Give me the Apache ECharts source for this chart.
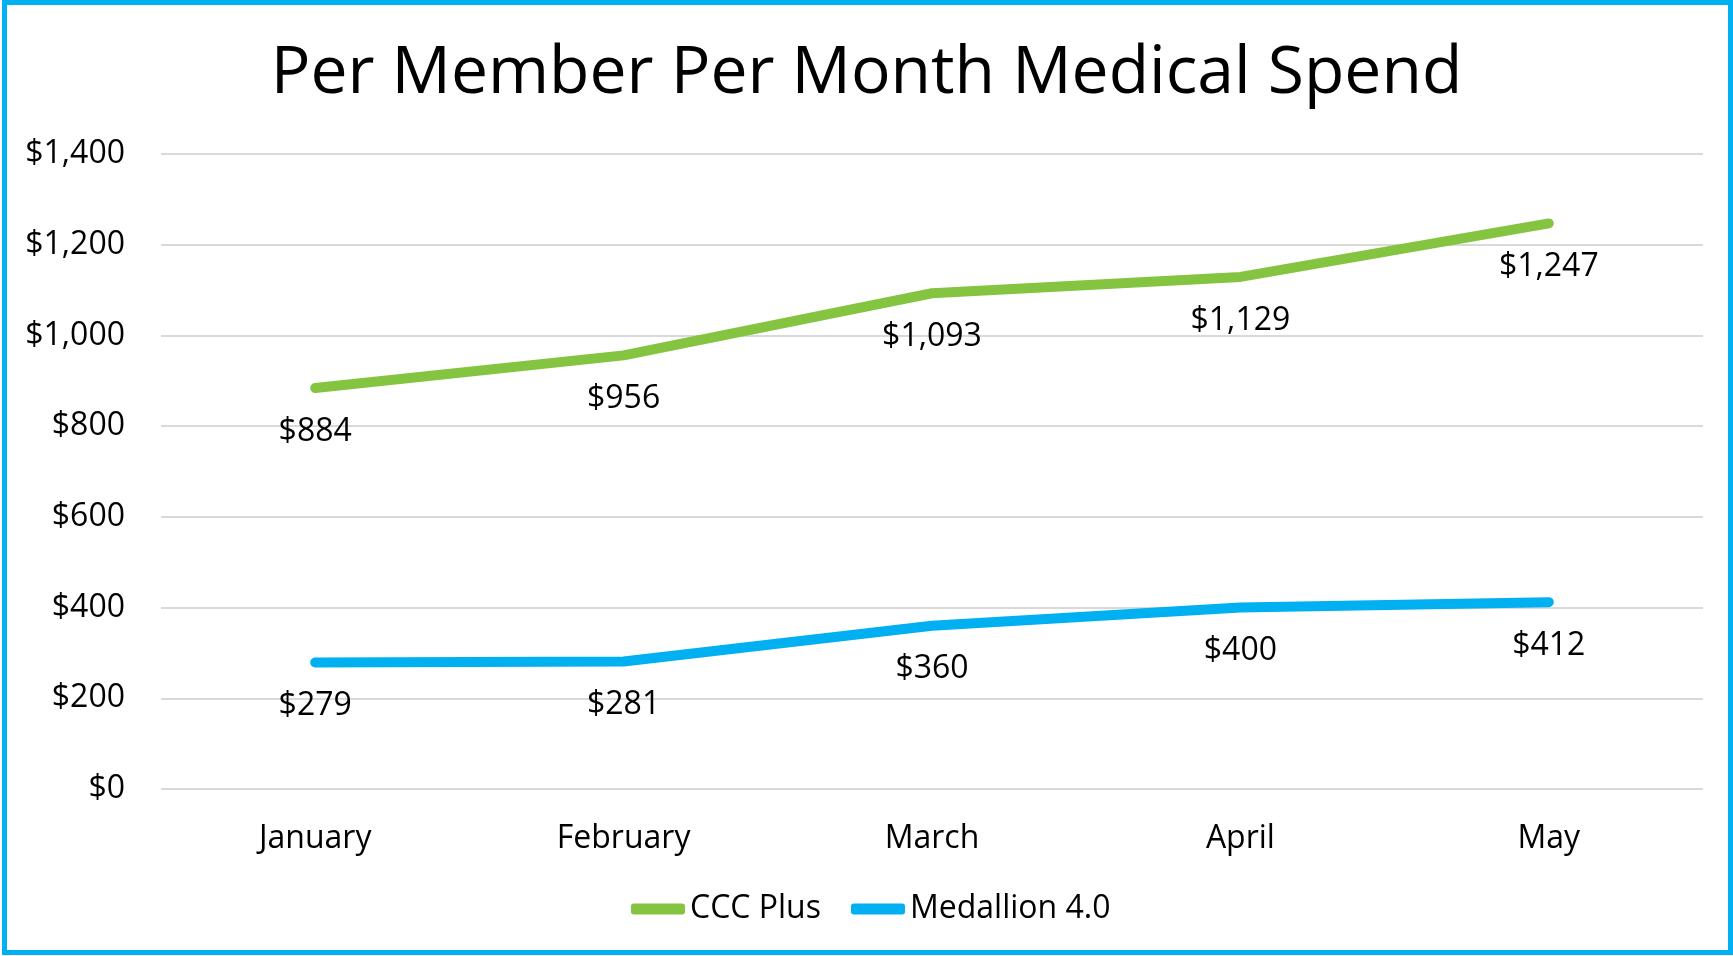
<!DOCTYPE html>
<html>
<head>
<meta charset="utf-8">
<script src="https://cdn.jsdelivr.net/npm/echarts@6/dist/echarts.min.js"></script>
<style>
    html, body { margin: 0; padding: 0; background: #fff; }
    #chart { width: 1733px; height: 956px; }
</style>
</head>
<body>
<div id="chart"></div>
<script>
/*
|--------------------------------------------------------------------------
| Data
|--------------------------------------------------------------------------
*/

const months = ['January', 'February', 'March', 'April', 'May'];
const cccPlus = [884, 956, 1093, 1129, 1247];
const medallion = [279, 281, 360, 400, 412];
const yTicks = [0, 200, 400, 600, 800, 1000, 1200, 1400];

/*
|--------------------------------------------------------------------------
| Style helpers
|--------------------------------------------------------------------------
*/

const fontFamily = '"Open Sans", "Noto Sans", sans-serif';
const textColor = '#000';
const green = '#84C441';
const blue = '#00B0F0';

const money = v => '$' + Number(v).toLocaleString('en-US');

function lineSeries(name, data, color) {
    return {
        name,
        type: 'line',
        data,
        symbol: 'circle',
        symbolSize: 1,
        itemStyle: { color },
        lineStyle: { color, width: 10, cap: 'round', join: 'round' },
        label: {
            show: true,
            position: 'bottom',
            distance: 27,
            formatter: ({ value }) => money(value),
            fontFamily,
            fontSize: 32,
            color: textColor,
        },
        emphasis: { disabled: true },
        animation: false,
    };
}

/*
|--------------------------------------------------------------------------
| Chart
|--------------------------------------------------------------------------
*/

const chart = echarts.init(document.getElementById('chart'));

chart.setOption({
    backgroundColor: '#fff',
    title: {
        text: 'Per Member Per Month Medical Spend',
        left: 'center',
        top: 36,
        textStyle: { fontFamily, fontSize: 66, fontWeight: 'normal', color: textColor },
    },
    legend: {
        left: 626,
        top: 888,
        itemWidth: 54,
        itemHeight: 11,
        itemGap: 30,
        icon: 'roundRect',
        textStyle: { fontFamily, fontSize: 32, color: textColor },
        data: ['CCC Plus', 'Medallion 4.0'],
    },
    grid: { left: 161, right: 30, top: 154, bottom: 167 },
    xAxis: {
        type: 'category',
        data: months,
        boundaryGap: true,
        axisLine: { show: false },
        axisTick: { show: false },
        axisLabel: { fontFamily, fontSize: 32, color: textColor, margin: 34 },
    },
    yAxis: {
        type: 'value',
        min: yTicks[0],
        max: yTicks[yTicks.length - 1],
        interval: yTicks[1] - yTicks[0],
        axisLine: { show: false },
        axisTick: { show: false },
        axisLabel: { fontFamily, fontSize: 32, color: textColor, margin: 36, formatter: money },
        splitLine: { lineStyle: { color: '#D9D9D9', width: 2 } },
    },
    series: [
        lineSeries('CCC Plus', cccPlus, green),
        lineSeries('Medallion 4.0', medallion, blue),
    ],
    // Outer frame
    graphic: [{
        type: 'rect',
        shape: { x: 4.5, y: 2.5, width: 1726, height: 950 },
        style: { fill: 'none', stroke: blue, lineWidth: 5 },
        silent: true,
    }],
});
</script>
</body>
</html>
